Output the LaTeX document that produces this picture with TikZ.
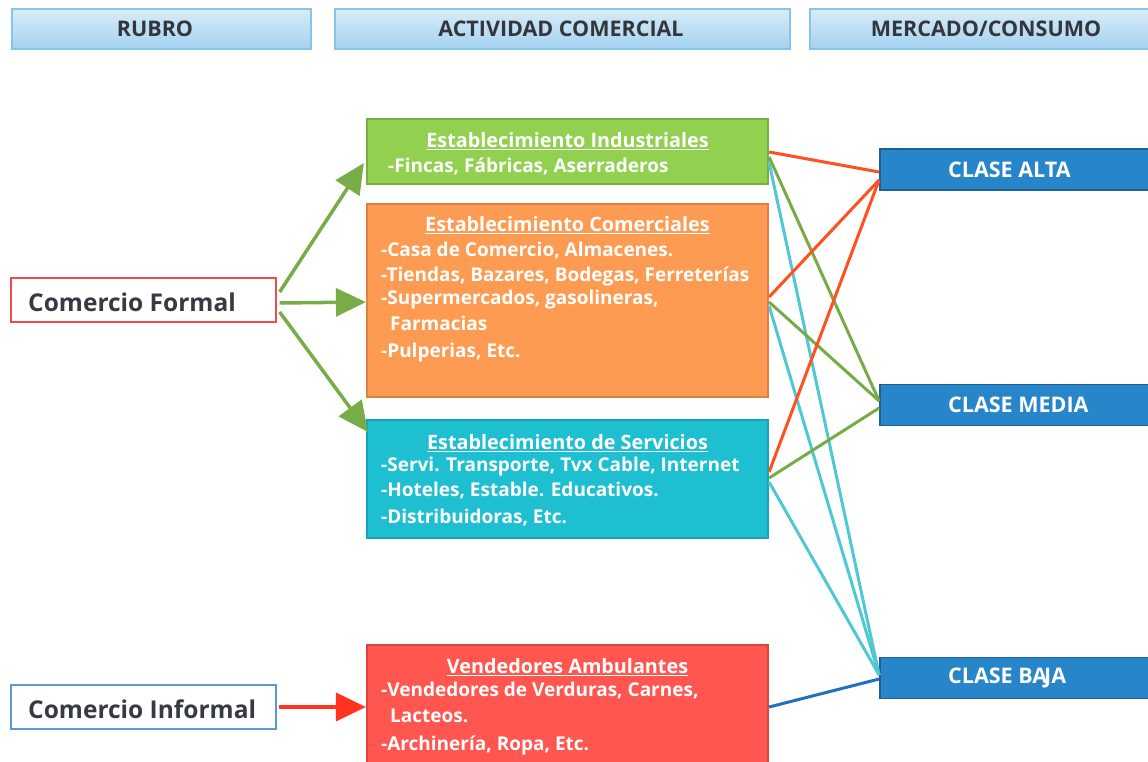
\documentclass[tikz,border=0pt]{standalone}
\usepackage{fontspec}
\setmainfont{Open Sans}
\newfontfamily\cffont{Open Sans}
\usetikzlibrary{arrows.meta,calc}
\definecolor{hdrTop}{HTML}{D8ECF8}
\definecolor{hdrBot}{HTML}{A4D2F0}
\definecolor{hdrLine}{HTML}{86C4EA}
\definecolor{hdrText}{HTML}{33363C}
\definecolor{gFill}{HTML}{92D050}
\definecolor{gLine}{HTML}{79AE42}
\definecolor{oFill}{HTML}{FD9B52}
\definecolor{oLine}{HTML}{DE8040}
\definecolor{cFill}{HTML}{1FBFD2}
\definecolor{cLine}{HTML}{18A4B8}
\definecolor{rFill}{HTML}{FF5650}
\definecolor{rLine}{HTML}{DA4540}
\definecolor{bFill}{HTML}{2785C9}
\definecolor{bLine}{HTML}{1D5F93}
\definecolor{lnRed}{HTML}{FF5020}
\definecolor{lnGreen}{HTML}{78AA46}
\definecolor{lnCyan}{HTML}{50C8D4}
\definecolor{lnBlue}{HTML}{2070C0}
\definecolor{arGreen}{HTML}{77AC47}
\definecolor{arRed}{HTML}{FF3320}
\definecolor{cfText}{HTML}{363A42}
\definecolor{cfRed}{HTML}{F04C48}
\definecolor{cfBlue}{HTML}{5A9AD6}
\begin{document}
\begin{tikzpicture}[x=1pt,y=-1pt,
  hdrbox/.style={draw=hdrLine,line width=1.2pt,top color=hdrTop,bottom color=hdrBot,minimum height=40,inner sep=0},
  hdrtxt/.style={font=\bfseries\fontsize{21.5}{23}\selectfont,text=hdrText,inner sep=0},
  actbox/.style={line width=2.2pt,inner sep=0,minimum width=401},
  ttl/.style={font=\bfseries\fontsize{19.8}{21}\selectfont,text=white,inner sep=0},
  itm/.style={font=\bfseries\fontsize{19}{21}\selectfont,text=white,inner sep=0,anchor=west},
  clsbox/.style={draw=bLine,fill=bFill,line width=1.8pt,minimum width=280,minimum height=41,inner sep=0},
  clstxt/.style={font=\bfseries\fontsize{21.5}{23}\selectfont,text=white,inner sep=0,anchor=west},
  rubbox/.style={fill=white,line width=1.3pt,minimum width=265,minimum height=44,inner sep=0},
  rubtxt/.style={font=\cffont\bfseries\fontsize{24.5}{26}\selectfont,text=cfText,inner sep=0,anchor=west},
  conn/.style={line width=3pt},
  bigarrow/.style={line width=3.5pt,-{Triangle[length=30pt,width=28pt]}}]
\useasboundingbox (0,0) rectangle (1148,762);
\clip (0,0) rectangle (1148,762);
% headers
\node[hdrbox,minimum width=299] (h1) at (161.5,29) {};
\node[hdrtxt] (h1t) at (155,29) {RUBRO};
\node[hdrbox,minimum width=455] (h2) at (562.5,29) {};
\node[hdrtxt] (h2t) at (561,29) {ACTIVIDAD COMERCIAL};
\node[hdrbox,minimum width=360] (h3) at (990,29) {};
\node[hdrtxt] (h3t) at (986,29) {MERCADO/CONSUMO};
% rubro boxes
\node[rubbox,draw=cfRed] (cf) at (143.5,300) {};
\node[rubtxt] (cft) at (28,302) {Comercio Formal};
\node[rubbox,draw=cfBlue] (ci) at (143.5,707) {};
\node[rubtxt] (cit) at (28,709) {Comercio Informal};
% activity boxes
\node[actbox,draw=gLine,fill=gFill,minimum height=65] (g) at (567.5,151.5) {};
\node[ttl] (gt) at (567.5,141) {\underline{Establecimiento Industriales}};
\node[itm] (g1) at (388,166) {-Fincas, Fábricas, Aserraderos};
\node[actbox,draw=oLine,fill=oFill,minimum height=193] (o) at (567.5,300.5) {};
\node[ttl] (ot) at (567.5,225) {\underline{Establecimiento Comerciales}};
\node[itm] (o1) at (381,251) {-Casa de Comercio, Almacenes.};
\node[itm] (o2) at (381,277) {-Tiendas, Bazares, Bodegas, Ferreterías};
\node[itm] (o3) at (381,300) {-Supermercados, gasolineras,};
\node[itm] (o4) at (390,323) {Farmacias};
\node[itm] (o5) at (381,353) {-Pulperias, Etc.};
\node[actbox,draw=cLine,fill=cFill,minimum height=118] (c) at (567.5,479) {};
\node[ttl] (ct) at (567.5,443) {\underline{Establecimiento de Servicios}};
\node[itm] (c1) at (381,467) {-Servi. Transporte, Tvx Cable, Internet};
\node[itm] (c2) at (381,491) {-Hoteles, Estable. Educativos.};
\node[itm] (c3) at (381,518) {-Distribuidoras, Etc.};
\node[actbox,draw=rLine,fill=rFill,minimum height=145] (r) at (567.5,717.5) {};
\node[ttl] (rt) at (567.5,667) {\underline{Vendedores Ambulantes}};
\node[itm] (r1) at (381,691) {-Vendedores de Verduras, Carnes,};
\node[itm] (r2) at (390,716) {Lacteos.};
\node[itm] (r3) at (381,745) {-Archinería, Ropa, Etc.};
% class boxes
\node[clsbox] (alta) at (1020,169.5) {};
\node[clstxt] (altat) at (948,169.5) {CLASE ALTA};
\node[clsbox] (media) at (1020,405) {};
\node[clstxt] (mediat) at (948,405) {CLASE MEDIA};
\node[clsbox] (baja) at (1020,678) {};
\node[clstxt] (bajat) at (948,678) {CLASE BA\kern-3pt JA};
% connectors to markets
\draw[conn,lnCyan] ($(g.east)+(0,11)$) -- ($(baja.west)+(0,-3)$);
\draw[conn,lnCyan] ($(o.east)+(0,5.5)$) -- ($(baja.west)+(0,-3)$);
\draw[conn,lnCyan] ($(c.east)+(0,3)$) -- ($(baja.west)+(0,-3)$);
\draw[conn,lnGreen] ($(g.east)+(0,5.5)$) -- ($(media.west)+(0,-4)$);
\draw[conn,lnGreen] ($(o.east)+(0,1.5)$) -- ($(media.west)+(0,-4)$);
\draw[conn,lnGreen] ($(c.east)+(0,-1)$) -- ($(media.west)+(0,3)$);
\draw[conn,lnRed] ($(g.east)+(0,0.5)$) -- ($(alta.west)+(0,2.5)$);
\draw[conn,lnRed] ($(o.east)+(0,-3.5)$) -- ($(alta.west)+(0,10.5)$);
\draw[conn,lnRed] ($(c.east)+(0,-7)$) -- ($(alta.west)+(0,10.5)$);
\draw[conn,lnBlue] ($(r.east)+(0,-10.5)$) -- ($(baja.west)+(0,1)$);
% arrows from rubro
\draw[bigarrow,arGreen] ($(cf.east)+(3,-8)$) -- ($(g.west)+(-2,11.5)$);
\draw[bigarrow,arGreen] ($(cf.east)+(3,3)$) -- ($(o.west)+(0,1.5)$);
\draw[bigarrow,arGreen] ($(cf.east)+(3,12)$) -- ($(c.west)+(2,-47)$);
\draw[bigarrow,arRed] ($(ci.east)+(2,0)$) -- ($(r.west)+(0,-10.5)$);
\end{tikzpicture}
\end{document}
